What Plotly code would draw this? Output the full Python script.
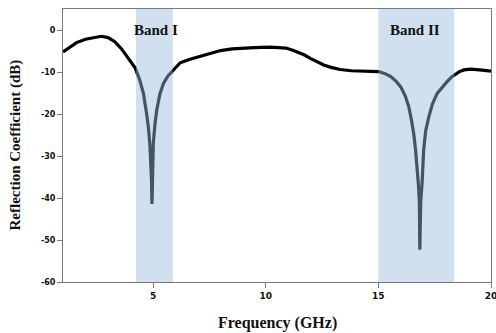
import plotly.graph_objects as go

# Measured reflection coefficient (S11) versus frequency
freq_ghz = [1.0, 1.3, 1.6, 2.0, 2.4, 2.7, 3.0, 3.3, 3.6, 3.9, 4.2, 4.4, 4.57, 4.7,
            4.79, 4.86, 4.9, 4.93, 4.95, 4.97, 5.01, 5.08, 5.16, 5.3, 5.46, 5.65,
            5.83, 6.0, 6.2, 6.6, 7.1, 7.5, 8.0, 8.5, 9.0, 9.5, 10.2, 10.9, 11.2,
            11.5, 11.7, 12.0, 12.3, 12.6, 12.9, 13.3, 13.8, 14.3, 14.7, 15.0, 15.3,
            15.55, 15.8, 16.0, 16.2, 16.35, 16.47, 16.57, 16.65, 16.72, 16.78,
            16.82, 16.84, 16.88, 16.94, 17.01, 17.1, 17.24, 17.4, 17.61, 17.85,
            18.05, 18.25, 18.38, 18.6, 18.8, 19.1, 19.5, 20.0]
s11_db = [-5.2, -4.0, -3.0, -2.2, -1.7, -1.5, -1.8, -2.8, -4.5, -6.8, -9.0, -11.8,
          -15.1, -19.5, -23.1, -27.5, -31.0, -36.0, -41.4, -36.0, -27.0, -22.5,
          -19.1, -15.3, -12.7, -11.0, -10.0, -9.0, -7.8, -7.0, -6.3, -5.7, -4.9,
          -4.5, -4.3, -4.2, -4.1, -4.3, -4.8, -5.4, -5.9, -6.8, -7.7, -8.4, -8.9,
          -9.4, -9.7, -9.8, -9.7, -9.9, -10.4, -11.1, -12.3, -13.6, -15.8, -18.3,
          -21.5, -24.7, -28.5, -32.6, -37.0, -41.0, -52.3, -41.0, -36.6, -28.6,
          -24.0, -20.7, -17.6, -15.1, -13.4, -12.3, -11.2, -10.7, -9.9, -9.5,
          -9.3, -9.5, -9.8]

# Operating bands (GHz)
band_names = ["Band I", "Band II"]
band_start = [4.24, 15.0]
band_stop = [5.87, 18.37]
band_label_x = [5.13, 16.64]

x_ticks = [5, 10, 15, 20]
y_ticks = [0, -10, -20, -30, -40, -50, -60]

fig = go.Figure()
fig.add_trace(go.Scatter(
    x=freq_ghz, y=s11_db, mode="lines",
    line=dict(color="black", width=3.2),
    showlegend=False,
))

for name, x0, x1, lx in zip(band_names, band_start, band_stop, band_label_x):
    fig.add_shape(type="rect", xref="x", yref="paper", x0=x0, x1=x1, y0=0, y1=1,
                  fillcolor="rgba(154,187,220,0.45)", line=dict(width=0),
                  layer="above")
    fig.add_annotation(x=lx, y=0, xref="x", yref="y", text=f"<b>{name}</b>",
                       showarrow=False, yanchor="middle",
                       font=dict(family="Liberation Serif", size=15, color="#111111"))

axis_common = dict(
    showline=True, linecolor="#7a7a7a", linewidth=1, mirror=True,
    ticks="outside", ticklen=5, tickcolor="#7a7a7a", tickwidth=1,
    showgrid=False, zeroline=False, ticklabeloverflow="allow", automargin=False,
)

fig.update_xaxes(range=[1, 20], tickvals=x_ticks, ticktext=[str(v) for v in x_ticks],
                 tickfont=dict(family="DejaVu Sans", size=9, color="#111111", weight="bold"),
                 **axis_common)
fig.update_yaxes(range=[-60, 5], tickvals=y_ticks, ticktext=[str(v) for v in y_ticks],
                 tickfont=dict(family="DejaVu Sans", size=8, color="#111111", weight="bold"),
                 **axis_common)

fig.add_annotation(x=0.5, y=0, xref="paper", yref="paper", yshift=-41,
                   text="<b>Frequency (GHz)</b>", showarrow=False, yanchor="middle",
                   font=dict(family="Liberation Serif", size=16, color="#111111"))
fig.add_annotation(x=0, y=0.5, xref="paper", yref="paper", xshift=-48,
                   text="<b>Reflection Coefficient (dB)</b>", showarrow=False,
                   textangle=-90, xanchor="center",
                   font=dict(family="Liberation Serif", size=15, color="#111111"))

fig.update_layout(
    width=496, height=333,
    margin=dict(l=63, r=5, t=9, b=51),
    plot_bgcolor="white", paper_bgcolor="white",
)

fig.write_html("out.html")
